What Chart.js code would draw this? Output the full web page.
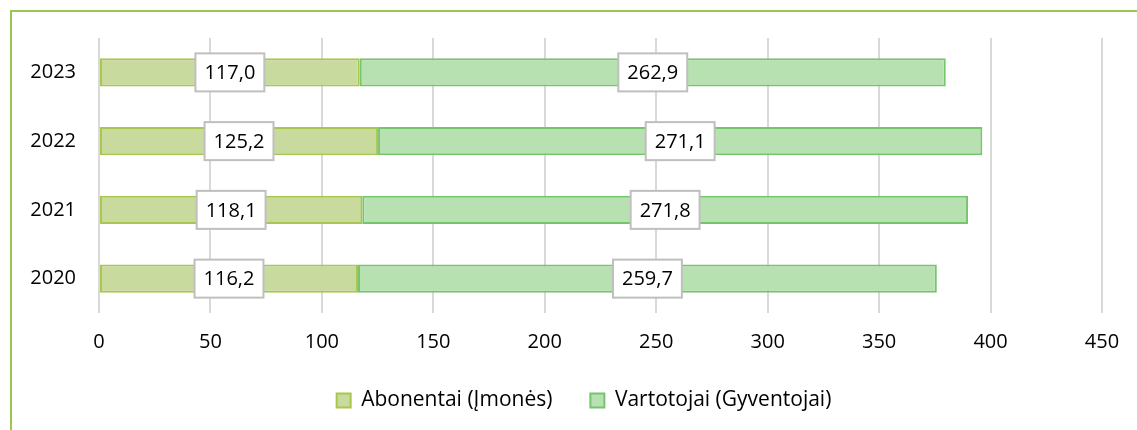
<!DOCTYPE html>
<html>
<head>
<meta charset="utf-8">
<script src="https://cdn.jsdelivr.net/npm/chart.js@4.4.1/dist/chart.umd.min.js"></script>
<style>
  html, body { margin: 0; padding: 0; background: #fff; overflow: hidden; }
  #frame { position: absolute; left: 10px; top: 10px; width: 1200px; height: 500px;
           border-top: 2px solid #9dc74a; border-left: 2px solid #9dc74a; }
  #wrap { position: absolute; left: 0; top: 0; width: 1137px; height: 430px; }
</style>
</head>
<body>
<div id="frame"></div>
<div id="wrap"><canvas id="chart" width="1137" height="430"></canvas></div>
<script>
  // Data (top to bottom as shown)
  var years = ["2023", "2022", "2021", "2020"];
  var abonentai = [117.0, 125.2, 118.1, 116.2];
  var vartotojai = [262.9, 271.1, 271.8, 259.7];
  var xTicks = [0, 50, 100, 150, 200, 250, 300, 350, 400, 450];

  Chart.defaults.font.family = "'Open Sans', Lato, sans-serif";
  Chart.defaults.font.size = 20;
  Chart.defaults.color = "#000000";

  // Value boxes in the middle of each segment
  var boxLabels = {
    id: "boxLabels",
    beforeDraw: function (chart) {
      // legend sits a bit right of centre in the original
      chart.legend.left += 33;
      chart.legend.right += 33;
    },
    afterDatasetsDraw: function (chart) {
      var ctx = chart.ctx;
      ctx.save();
      ctx.font = "20px 'Open Sans', Lato, sans-serif";
      ctx.textAlign = "center";
      ctx.textBaseline = "middle";
      chart.data.datasets.forEach(function (ds, i) {
        chart.getDatasetMeta(i).data.forEach(function (bar, j) {
          var c = bar.getCenterPoint();
          var txt = ds.data[j].toFixed(1).replace(".", ",");
          var w = ctx.measureText(txt).width + 18;
          var h = 38;
          ctx.fillStyle = "#ffffff";
          ctx.fillRect(c.x - w / 2, c.y - h / 2, w, h);
          ctx.strokeStyle = "#bfbfbf";
          ctx.lineWidth = 2;
          ctx.strokeRect(c.x - w / 2, c.y - h / 2, w, h);
          ctx.fillStyle = "#000000";
          ctx.fillText(txt, c.x, c.y + 1);
        });
      });
      ctx.restore();
    }
  };

  var ctx = document.getElementById("chart").getContext("2d");
  var myChart = new Chart(ctx, {
    type: "bar",
    data: {
      labels: years,
      datasets: [
        {
          label: "Abonentai (Įmonės)",
          data: abonentai,
          backgroundColor: "#c9da9e",
          borderColor: "#a9c64e",
          borderWidth: 2,
          borderSkipped: false,
          barPercentage: 0.41,
          categoryPercentage: 1,
        },
        {
          label: "Vartotojai (Gyventojai)",
          data: vartotojai,
          backgroundColor: "#b7e1b1",
          borderColor: "#77c46e",
          borderWidth: 2,
          borderSkipped: false,
          barPercentage: 0.41,
          categoryPercentage: 1,
        },
      ],
    },
    options: {
      indexAxis: "y",
      responsive: false,
      animation: false,
      layout: { padding: { left: 0, right: 35, top: 38, bottom: 9 } },
      scales: {
        x: {
          stacked: true,
          min: 0,
          max: 450,
          afterBuildTicks: function (scale) {
            scale.ticks = xTicks.map(function (v) { return { value: v }; });
          },
          afterFit: function (scale) { scale.height = 39; },
          ticks: { padding: 17, color: "#000000" },
          grid: { color: "#d9d9d9", lineWidth: 2, drawTicks: false },
          border: { display: false },
        },
        y: {
          stacked: true,
          afterFit: function (scale) { scale.width = 99; },
          ticks: { padding: 23, color: "#000000" },
          grid: { display: false, drawTicks: false },
          border: { display: false },
        },
      },
      plugins: {
        legend: {
          position: "bottom",
          labels: { boxWidth: 14, boxHeight: 14, padding: 38, color: "#000000", font: { size: 21 } },
        },
        tooltip: { enabled: false },
      },
    },
    plugins: [boxLabels],
  });
</script>
</body>
</html>
